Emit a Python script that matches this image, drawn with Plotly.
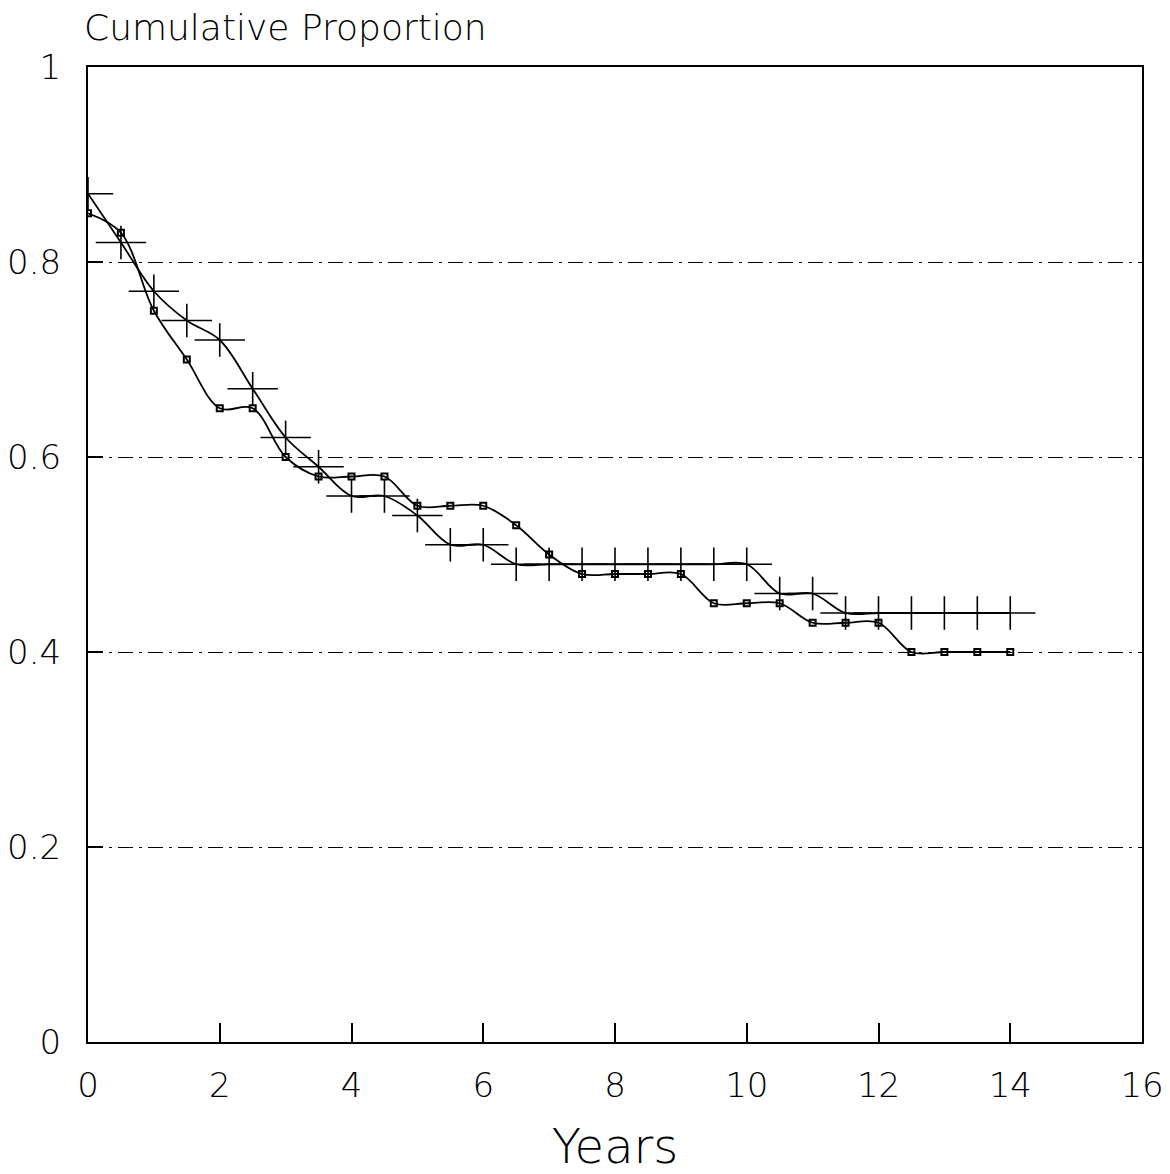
import plotly.graph_objects as go

years = [0, 0.5, 1, 1.5, 2, 2.5, 3, 3.5, 4, 4.5, 5, 5.5, 6, 6.5, 7, 7.5, 8, 8.5, 9, 9.5,
         10, 10.5, 11, 11.5, 12, 12.5, 13, 13.5, 14]
group_plus = [0.87, 0.82, 0.77, 0.74, 0.72, 0.67, 0.62, 0.59, 0.56, 0.56, 0.54, 0.51, 0.51,
              0.49, 0.49, 0.49, 0.49, 0.49, 0.49, 0.49, 0.49, 0.46, 0.46, 0.44, 0.44, 0.44,
              0.44, 0.44, 0.44]
group_square = [0.85, 0.83, 0.75, 0.70, 0.65, 0.65, 0.60, 0.58, 0.58, 0.58, 0.55, 0.55, 0.55,
                0.53, 0.50, 0.48, 0.48, 0.48, 0.48, 0.45, 0.45, 0.45, 0.43, 0.43, 0.43, 0.40,
                0.40, 0.40, 0.40]
x_ticks = [0, 2, 4, 6, 8, 10, 12, 14, 16]
y_ticks = [0, 0.2, 0.4, 0.6, 0.8, 1]
y_tick_text = ["0", "0.2", "0.4", "0.6", "0.8", "1"]

FONT = "DejaVu Sans"
W = 200
fig = go.Figure()

fig.add_trace(go.Scatter(x=years, y=group_plus, mode="lines",
                         line=dict(color="black", width=1.8, shape="spline", smoothing=1.0),
                         hoverinfo="skip", showlegend=False))
fig.add_trace(go.Scatter(x=years, y=group_square, mode="lines",
                         line=dict(color="black", width=1.8, shape="spline", smoothing=1.0),
                         hoverinfo="skip", showlegend=False))
# plus markers: wide horizontal bar + shorter vertical bar
fig.add_trace(go.Scatter(x=years, y=group_plus, mode="markers",
                         marker=dict(symbol="line-ew", size=36, line=dict(color="black", width=1.6)),
                         showlegend=False))
fig.add_trace(go.Scatter(x=years, y=group_plus, mode="markers",
                         marker=dict(symbol="line-ns", size=24, line=dict(color="black", width=1.6)),
                         showlegend=False))
fig.add_trace(go.Scatter(x=years, y=group_square, mode="markers",
                         marker=dict(symbol="square-open", size=6, color="black",
                                     line=dict(color="black", width=2)),
                         showlegend=False))

fig.update_layout(
    width=1170, height=1174,
    margin=dict(l=88, r=28, t=67, b=132),
    paper_bgcolor="white", plot_bgcolor="white",
    font=dict(family=FONT, color="black", size=34, weight=W),
    showlegend=False,
)
fig.add_annotation(text="Cumulative Proportion", xref="paper", yref="paper",
                   x=-0.006, y=1.041, xanchor="left", yanchor="middle", showarrow=False,
                   font=dict(size=36, family=FONT, color="black", weight=W))

fig.update_xaxes(range=[0, 16], tickvals=x_ticks, ticktext=[str(v) for v in x_ticks],
                 automargin=False,
                 showgrid=False, zeroline=False, showline=True, linecolor="black", linewidth=2,
                 mirror=True, ticks="inside", ticklen=19, tickwidth=1.5, tickcolor="black",
                 tickfont=dict(size=34, family=FONT, weight=W), ticklabelstandoff=12,
                 title=dict(text="Years", font=dict(size=48, family=FONT, weight=W), standoff=35))
fig.update_yaxes(range=[0, 1], tickvals=y_ticks, ticktext=y_tick_text,
                 automargin=False,
                 showgrid=True, gridcolor="black", gridwidth=1, griddash="longdashdot",
                 zeroline=False, showline=True, linecolor="black", linewidth=2, mirror=True,
                 ticks="inside", ticklen=15, tickwidth=1.5, tickcolor="black",
                 tickfont=dict(size=34, family=FONT, weight=W), ticklabelstandoff=18)

fig.write_html("out.html")
